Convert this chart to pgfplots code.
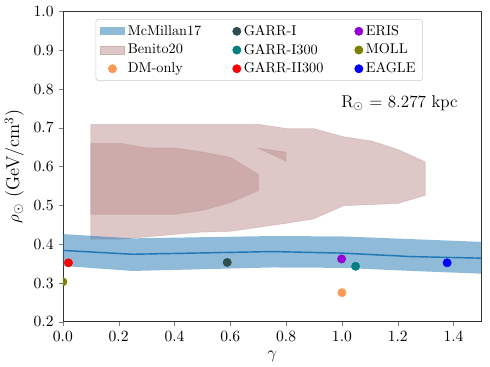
\documentclass[border=0pt]{standalone}
\usepackage{pgfplots}
\pgfplotsset{compat=1.18}
\usepackage{xcolor}

\definecolor{tabblue}{RGB}{31,119,180}
\definecolor{rosy}{RGB}{188,143,143}
\definecolor{garri}{RGB}{47,79,79}
\definecolor{garrithree}{RGB}{0,128,128}
\definecolor{dmonly}{RGB}{255,153,85}
\definecolor{eris}{RGB}{148,0,211}
\definecolor{moll}{RGB}{128,128,0}

\begin{document}
\begin{tikzpicture}
\begin{axis}[
    scale only axis,
    width=294pt, height=218pt,
    xmin=0, xmax=1.5, ymin=0.2, ymax=1.0,
    xtick={0,0.2,...,1.4},
    ytick={0.2,0.3,...,1.0},
    tick align=outside,
    tick pos=left,
    major tick length=3pt,
    clip marker paths=true,
    tick label style={font=\fontsize{11}{13}\selectfont},
    xticklabel style={/pgf/number format/.cd, fixed, fixed zerofill, precision=1},
    yticklabel style={/pgf/number format/.cd, fixed, fixed zerofill, precision=1},
    xlabel={$\gamma$},
    ylabel={$\rho_\odot$ (GeV/cm$^3$)},
    label style={font=\fontsize{13}{15}\selectfont},
    axis line style={black!80},
    legend columns=3,
    legend cell align=left,
    legend style={
        at={(0.078,0.975)}, anchor=north west,
        font=\fontsize{10}{12}\selectfont,
        draw=black!20, rounded corners=2pt,
        row sep=0.5pt,
        /tikz/every even column/.append style={column sep=20pt},
    },
]
% Benito20 contours
\addplot[fill=rosy, fill opacity=0.5, draw=rosy, draw opacity=0.4, forget plot] coordinates {
 (0.1,0.709) (0.701,0.709) (0.802,0.698) (0.898,0.698) (1.005,0.677)
 (1.106,0.666) (1.201,0.644) (1.299,0.612) (1.299,0.526) (1.201,0.505)
 (1.005,0.499) (0.898,0.465) (0.802,0.454) (0.6,0.433) (0.493,0.431)
 (0.207,0.413) (0.1,0.413)} --cycle;
\addplot[fill=rosy, fill opacity=0.5, draw=rosy, draw opacity=0.4, forget plot] coordinates {
 (0.1,0.66) (0.207,0.66) (0.302,0.648) (0.404,0.648) (0.505,0.637)
 (0.6,0.624) (0.701,0.58) (0.701,0.538) (0.6,0.507) (0.505,0.488)
 (0.404,0.477) (0.1,0.477)} --cycle;
\addplot[fill=rosy, fill opacity=0.5, draw=rosy, draw opacity=0.4, forget plot] coordinates {
 (0.698,0.648) (0.8,0.637) (0.8,0.614)} --cycle;
% McMillan17 band
\addplot[fill=tabblue, fill opacity=0.5, draw=none, forget plot] coordinates {
 (0,0.426) (0.25,0.415) (0.75,0.421) (1.0,0.420) (1.25,0.413) (1.5,0.406)
 (1.5,0.324) (1.25,0.331) (1.0,0.339) (0.75,0.340) (0.25,0.331) (0,0.344)} --cycle;
\addplot[tabblue, line width=1pt, forget plot] coordinates {
 (0,0.384) (0.25,0.374) (0.75,0.381) (1.0,0.377) (1.25,0.368) (1.5,0.364)};
% simulations
\addplot[only marks, mark=*, mark size=2.9pt, color=dmonly, forget plot] coordinates {(1.0,0.275)};
\addplot[only marks, mark=*, mark size=2.9pt, color=garri, forget plot] coordinates {(0.589,0.353)};
\addplot[only marks, mark=*, mark size=2.9pt, color=garrithree, forget plot] coordinates {(1.049,0.343)};
\addplot[only marks, mark=*, mark size=2.9pt, color=red, forget plot] coordinates {(0.02,0.352)};
\addplot[only marks, mark=*, mark size=2.9pt, color=eris, forget plot] coordinates {(0.999,0.362)};
\addplot[only marks, mark=*, mark size=2.9pt, color=moll, forget plot] coordinates {(0.0,0.303)};
\addplot[only marks, mark=*, mark size=2.9pt, color=blue, forget plot] coordinates {(1.377,0.352)};

% legend, row by row
\addlegendimage{legend image code/.code={\path[fill=tabblue!50, draw=none, sharp corners] (0cm,-0.1cm) rectangle (0.6cm,0.1cm);}}
\addlegendentry{McMillan17}
\addlegendimage{only marks, mark=*, mark size=2.9pt, color=garri}
\addlegendentry{GARR-I}
\addlegendimage{only marks, mark=*, mark size=2.9pt, color=eris}
\addlegendentry{ERIS}
\addlegendimage{legend image code/.code={\path[fill=rosy!50, draw=rosy!70, sharp corners] (0cm,-0.1cm) rectangle (0.6cm,0.1cm);}}
\addlegendentry{Benito20}
\addlegendimage{only marks, mark=*, mark size=2.9pt, color=garrithree}
\addlegendentry{GARR-I300}
\addlegendimage{only marks, mark=*, mark size=2.9pt, color=moll}
\addlegendentry{MOLL}
\addlegendimage{only marks, mark=*, mark size=2.9pt, color=dmonly}
\addlegendentry{DM-only}
\addlegendimage{only marks, mark=*, mark size=2.9pt, color=red}
\addlegendentry{GARR-II300}
\addlegendimage{only marks, mark=*, mark size=2.9pt, color=blue}
\addlegendentry{EAGLE}

\node[anchor=east, font=\large] at (rel axis cs:0.955,0.704) {R$_\odot$ = 8.277 kpc};
\end{axis}
\path (current axis.north east) ++(6pt,8pt);
\end{tikzpicture}
\end{document}
